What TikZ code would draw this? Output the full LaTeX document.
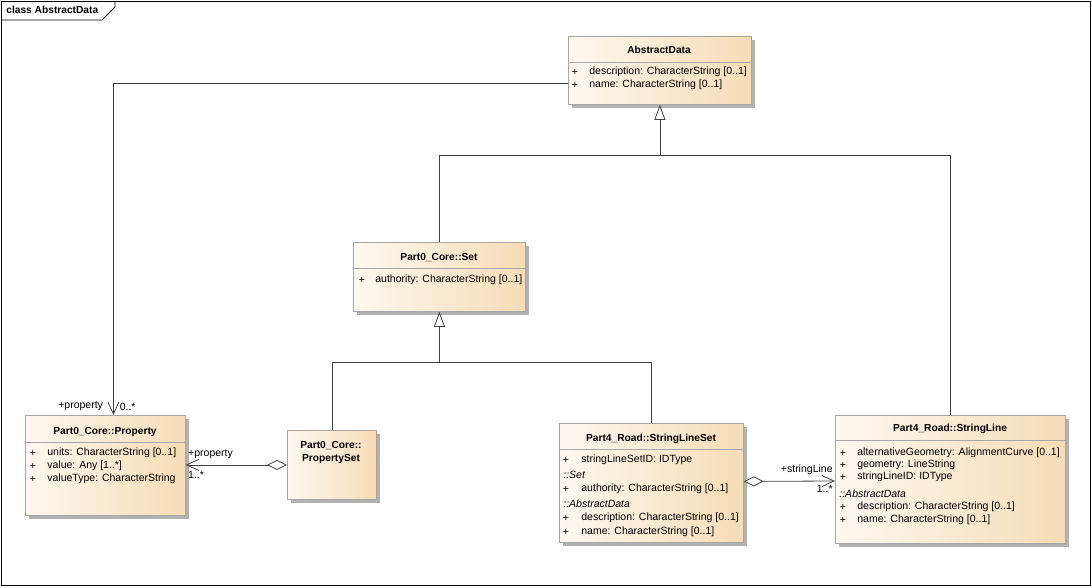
\documentclass[tikz,border=0pt]{standalone}
\usepackage{fontspec}
\setmainfont{Liberation Sans}
\usetikzlibrary{positioning,shadows,arrows.meta}

\definecolor{boxleft}{HTML}{FDF8F0}
\definecolor{boxright}{HTML}{F6DCB6}
\definecolor{boxline}{HTML}{A6A6A6}
\definecolor{connline}{HTML}{404040}

\tikzset{
  classbox/.style={draw=boxline, left color=boxleft, right color=boxright,
    anchor=north west, inner sep=0pt,
    drop shadow={shadow xshift=3.5pt, shadow yshift=-3.5pt, fill=black!30, opacity=1}},
  classname/.style={font=\fontsize{10.2}{12}\selectfont\bfseries, inner sep=0pt},
  attr/.style={font=\fontsize{10.5}{12}\selectfont, anchor=west, inner sep=0pt},
  plus/.style={font=\fontsize{10.5}{12}\selectfont, inner sep=0pt},
  inherited/.style={font=\fontsize{10.5}{12}\selectfont\itshape, anchor=west, inner sep=0pt},
  role/.style={font=\fontsize{10.5}{12}\selectfont, text=black, inner sep=0pt},
  generalize/.style={color=connline, line width=0.8pt, -{Triangle[length=15pt,width=11pt,fill=white]}},
  assoc/.style={color=connline, line width=0.8pt, -{Straight Barb[length=12pt,width=11pt]}},
  aggr/.style={color=connline, line width=0.8pt, {Diamond[length=20pt,width=10pt,fill=white]}-{Straight Barb[length=12pt,width=11pt]}},
  sep/.style={draw=boxline, line width=0.8pt}
}

\begin{document}
\begin{tikzpicture}[x=1pt,y=-1pt, line width=0.8pt]
  \useasboundingbox (0,0) rectangle (1092,587);
  % frame
  \node[draw=black, anchor=north west, minimum width=1089pt, minimum height=584pt, inner sep=0pt] (frame) at (1,1) {};
  \draw[black] (1,20) -- (102,20) -- (115,7) -- (115,1);
  \node[classname, anchor=west] (title) at (6,10) {class AbstractData};

  % AbstractData
  \node[classbox, minimum width=183pt, minimum height=68pt] (abstractdata) at (568,36) {};
  \draw[sep] ([yshift=-26pt]abstractdata.north west) -- ([yshift=-26pt]abstractdata.north east);
  \node[classname] (abstractdataname) at (659,50) {AbstractData};
  \node[plus] at (575,72) {+};
  \node[attr] at (589,72) {description: CharacterString [0..1]};
  \node[plus] at (575,85) {+};
  \node[attr] at (589,85) {name: CharacterString [0..1]};

  % Part0_Core::Set
  \node[classbox, minimum width=172pt, minimum height=69pt] (set) at (353,242) {};
  \draw[sep] ([yshift=-26pt]set.north west) -- ([yshift=-26pt]set.north east);
  \node[classname] at (439,258) {Part0\_Core::Set};
  \node[plus] at (362,280) {+};
  \node[attr] at (375,280) {authority: CharacterString [0..1]};

  % Part0_Core::Property
  \node[classbox, minimum width=160pt, minimum height=100pt] (property) at (25,415) {};
  \draw[sep] ([yshift=-27pt]property.north west) -- ([yshift=-27pt]property.north east);
  \node[classname] at (105,432) {Part0\_Core::Property};
  \node[plus] at (33,453) {+};
  \node[attr] at (47,453) {units: CharacterString [0..1]};
  \node[plus] at (33,466) {+};
  \node[attr] at (47,466) {value: Any [1..*]};
  \node[plus] at (33,479) {+};
  \node[attr] at (47,479) {valueType: CharacterString};

  % Part0_Core::PropertySet
  \node[classbox, minimum width=89pt, minimum height=69pt] (propertyset) at (287,430) {};
  \node[classname] at (331,446) {Part0\_Core::};
  \node[classname] at (331,459) {PropertySet};

  % Part4_Road::StringLineSet
  \node[classbox, minimum width=184pt, minimum height=119pt] (stringlineset) at (559,423) {};
  \draw[sep] ([yshift=-26pt]stringlineset.north west) -- ([yshift=-26pt]stringlineset.north east);
  \node[classname] at (651,439) {Part4\_Road::StringLineSet};
  \node[plus] at (566,460) {+};
  \node[attr] at (581,460) {stringLineSetID: IDType};
  \node[inherited] at (563,475) {::Set};
  \node[plus] at (566,489) {+};
  \node[attr] at (581,489) {authority: CharacterString [0..1]};
  \node[inherited] at (563,504) {::AbstractData};
  \node[plus] at (566,518) {+};
  \node[attr] at (581,518) {description: CharacterString [0..1]};
  \node[plus] at (566,532) {+};
  \node[attr] at (581,532) {name: CharacterString [0..1]};

  % Part4_Road::StringLine
  \node[classbox, minimum width=230pt, minimum height=128pt] (stringline) at (835,415) {};
  \draw[sep] ([yshift=-25pt]stringline.north west) -- ([yshift=-25pt]stringline.north east);
  \node[classname] at (950,429) {Part4\_Road::StringLine};
  \node[plus] at (843,453) {+};
  \node[attr] at (857,453) {alternativeGeometry: AlignmentCurve [0..1]};
  \node[plus] at (843,465) {+};
  \node[attr] at (857,465) {geometry: LineString};
  \node[plus] at (843,477) {+};
  \node[attr] at (857,477) {stringLineID: IDType};
  \node[inherited] at (839,494) {::AbstractData};
  \node[plus] at (843,507) {+};
  \node[attr] at (857,507) {description: CharacterString [0..1]};
  \node[plus] at (843,520) {+};
  \node[attr] at (857,520) {name: CharacterString [0..1]};

  % generalizations
  \coordinate (topjoin) at (abstractdata.south |- 0,155);
  \coordinate (midjoin) at (set.south |- 0,362);
  \draw[generalize] (set.north) |- (topjoin) -- (abstractdata.south);
  \draw[generalize, -] (stringline.north) |- (topjoin);
  \draw[generalize] (propertyset.north) |- (midjoin) -- (set.south);
  \draw[generalize, -] (stringlineset.north) |- (midjoin);

  % associations
  \draw[assoc] ([yshift=-47pt]abstractdata.north west) -| ([xshift=8pt]property.north)
    node[role, at end, above left=4pt and 10pt] {+property}
    node[role, at end, above right=4pt and 6pt] {0..*};
  \draw[aggr] (propertyset.west) -- (property.east |- propertyset.west)
    node[role, at end, above right=6pt and 2pt] {+property}
    node[role, at end, below right=6pt and 2pt] {1..*};
  \draw[aggr] ([yshift=1.5pt]stringlineset.east) -- (stringline.west |- 0,481)
    node[role, at end, above left=6pt and 2pt] {+stringLine}
    node[role, at end, below left=4pt and 2pt] {1..*};
\end{tikzpicture}
\end{document}
